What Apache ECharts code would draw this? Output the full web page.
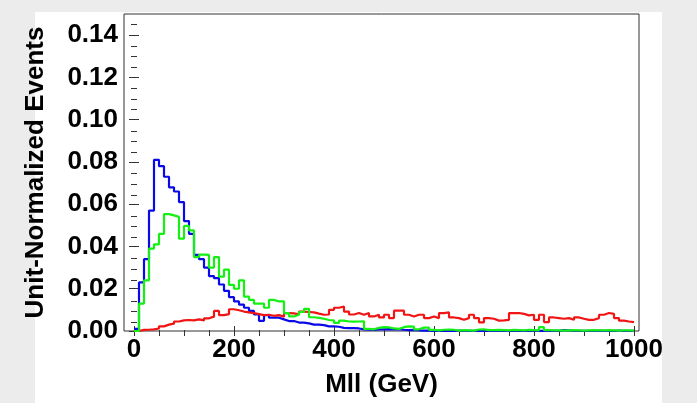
<!DOCTYPE html>
<html><head><meta charset="utf-8">
<script src="https://cdn.jsdelivr.net/npm/echarts@6/dist/echarts.min.js"></script>
<style>
html,body{margin:0;padding:0;background:#ececec;width:697px;height:403px;overflow:hidden;}
#panel{position:absolute;left:35px;top:12px;width:627px;height:391px;background:#fff;}
#chart{position:absolute;left:0;top:0;width:697px;height:403px;}
</style></head><body><div id="panel"></div><div id="chart"></div>
<script>
// bins: 10 GeV wide, left edges 0,10,...,990
const binWidth = 10;
const blueValues = [
0.001,0.023,0.034,0.057,0.081,0.078,0.073,0.068,0.066,0.061,
0.052,0.046,0.036,0.034,0.030,0.026,0.025,0.022,0.019,0.016,
0.014,0.0125,0.011,0.0095,0.0078,0.0048,0.0075,0.0063,0.0063,0.0055,
0.0047,0.0047,0.004,0.004,0.0036,0.003,0.003,0.0028,0.0022,0.0022,
0.002,0.0015,0.0014,0.0014,0.0012,0.0008,0.0006,0.0005,0.0007,0.0008,
0.0009,0.0008,0.0009,0.0006,0.0004,0.0005,0.0003,0.0002,0.0002,0.0001,
0.0001,0.0002,0.0001,0.0001,0.0002,0.0001,0.0001,0.0001,0.0002,0.0001,
0.0001,0.0001,0.0002,0.0001,0.0001,0.0002,0.0001,0.0001,0.0002,0.0001,
0.0001,0.0001,0.0002,0.0001,0.0001,0.0004,0.0003,0.0001,0.0001,0.0001,
0.0001,0.0001,0.0002,0.0001,0.0001,0.0001,0.0002,0.0001,0.0001,0.0001
];
const greenValues = [
0,0.013,0.024,0.039,0.041,0.046,0.0553,0.0547,0.054,0.0437,
0.0497,0.0476,0.035,0.0361,0.036,0.030,0.035,0.0257,0.029,0.0218,
0.020,0.024,0.0163,0.0147,0.013,0.013,0.011,0.0147,0.014,0.014,
0.0085,0.0069,0.0077,0.009,0.0105,0.0065,0.0062,0.0058,0.0052,0.005,
0.0038,0.0049,0.0045,0.0044,0.0045,0.0046,0.001,0.0008,0.0015,0.0018,
0.0017,0.0012,0.001,0.0018,0.0022,0.0021,0.0008,0.0016,0.0016,0.0005,
0.0003,0.0006,0.0007,0.0006,0.0002,0.0004,0.0003,0.0002,0.0007,0.0008,
0.0004,0.0004,0.0005,0.0004,0.0003,0.0005,0.0004,0.0003,0.0005,0.0004,
0.0003,0.0018,0.0004,0.0003,0.0003,0.0002,0.0003,0.0004,0.0003,0.0002,
0.0003,0.0004,0.0003,0.0003,0.0004,0.0003,0.0002,0.0003,0.0003,0.0002
];
const redValues = [
0,0.0005,0.0006,0.0008,0.0012,0.0022,0.003,0.0035,0.0045,0.005,
0.0052,0.005,0.0055,0.005,0.006,0.0068,0.0095,0.0075,0.008,0.0103,
0.0098,0.0092,0.0088,0.0085,0.008,0.0075,0.0077,0.0072,0.0075,0.0068,
0.0085,0.0083,0.0079,0.0092,0.009,0.0088,0.0082,0.0077,0.0078,0.0100,
0.0110,0.0116,0.0092,0.0078,0.0085,0.0077,0.0085,0.0069,0.0077,0.0064,
0.0077,0.0061,0.0096,0.0096,0.0077,0.0069,0.0077,0.0077,0.0061,0.0069,
0.0061,0.0085,0.0088,0.0064,0.0061,0.0053,0.0061,0.0077,0.0061,0.0041,
0.0061,0.0058,0.0049,0.0050,0.0053,0.0085,0.0085,0.0081,0.0074,0.0077,
0.0053,0.0077,0.0042,0.0064,0.0061,0.0058,0.0061,0.0053,0.0064,0.0058,
0.0053,0.0053,0.0061,0.0077,0.0085,0.0081,0.0061,0.0049,0.0045,0.0042
];
const xMajorTicks = [0,200,400,600,800,1000];
const xMinorTicks = [50,100,150,250,300,350,450,500,550,650,700,750,850,900,950];
const yMajorTicks = [0,0.02,0.04,0.06,0.08,0.10,0.12,0.14];
const yMinorTicks = [0.005,0.01,0.015,0.025,0.03,0.035,0.045,0.05,0.055,0.065,0.07,0.075,0.085,0.09,0.095,0.105,0.11,0.115,0.125,0.13,0.135,0.145];

function stepData(values){
  const pts = values.map((v,i)=>[i*binWidth, v]);
  pts.push([values.length*binWidth, values[values.length-1]]);
  return pts;
}
const FONT = 'Liberation Sans, Arial, sans-serif';
const FS = 26;
const AX = '#333';
const X_MIN=-20, X_MAX=1010, Y_MIN=0, Y_MAX=0.15;
const gridRect = {left:124, right:58, top:14, bottom:70};

function xAx(grid, pos, ticks, len, labels, extra){
  return Object.assign({type:'value', gridIndex:grid, position:pos, min:X_MIN, max:X_MAX,
    axisLine:{show:false}, splitLine:{show:false},
    axisTick:{show:true, inside:true, length:len, customValues:ticks, lineStyle:{color:AX,width:1}},
    axisLabel: labels ? {show:true, customValues:ticks, fontSize:FS, fontWeight:'bold', color:'#000', fontFamily:FONT, margin:6, formatter:v=>String(Math.round(v))} : {show:false}
  }, extra||{});
}
function yAx(grid, pos, ticks, len, labels, extra){
  return Object.assign({type:'value', gridIndex:grid, position:pos, min:Y_MIN, max:Y_MAX,
    axisLine:{show:false}, splitLine:{show:false},
    axisTick:{show:true, inside:true, length:len, customValues:ticks, lineStyle:{color:AX,width:1}},
    axisLabel: labels ? {show:true, customValues:ticks, fontSize:FS, fontWeight:'bold', color:'#000', fontFamily:FONT, margin:6, formatter:v=>v.toFixed(2)} : {show:false}
  }, extra||{});
}

const chart = echarts.init(document.getElementById('chart'), null, {renderer:'canvas'});
chart.setOption({
  animation:false,
  backgroundColor:'transparent',
  grid:[Object.assign({show:true, borderColor:AX, borderWidth:1, backgroundColor:'transparent'}, gridRect),
        Object.assign({show:false}, gridRect)],
  xAxis:[
    xAx(0,'bottom',xMajorTicks,5,true,{name:'Mll (GeV)', nameLocation:'middle', nameGap:41,
      nameTextStyle:{fontSize:FS, fontWeight:'bold', color:'#000', fontFamily:FONT}}),
    xAx(0,'top',xMajorTicks,5,false),
    xAx(1,'bottom',xMinorTicks,3,false),
    xAx(1,'top',xMinorTicks,3,false)
  ],
  yAxis:[
    yAx(0,'left',yMajorTicks,5,true,{name:'Unit-Normalized Events', nameLocation:'middle', nameGap:75, nameRotate:90,
      nameTextStyle:{fontSize:FS, fontWeight:'bold', color:'#000', fontFamily:FONT}}),
    yAx(0,'right',yMajorTicks,5,false),
    yAx(1,'left',yMinorTicks,3,false),
    yAx(1,'right',yMinorTicks,3,false)
  ],
  series:[
    {name:'blue', type:'line', xAxisIndex:0, yAxisIndex:0, step:'end', symbol:'none', data:stepData(blueValues),
      lineStyle:{color:'#0a0ae8', width:2.2}, itemStyle:{color:'#0a0ae8'}},
    {name:'red', type:'line', xAxisIndex:0, yAxisIndex:0, step:'end', symbol:'none', data:stepData(redValues),
      lineStyle:{color:'#f01414', width:2.2}, itemStyle:{color:'#f01414'}},
    {name:'green', type:'line', xAxisIndex:0, yAxisIndex:0, step:'end', symbol:'none', data:stepData(greenValues),
      lineStyle:{color:'#14f014', width:2.2}, itemStyle:{color:'#14f014'}}
  ]
});
</script></body></html>
